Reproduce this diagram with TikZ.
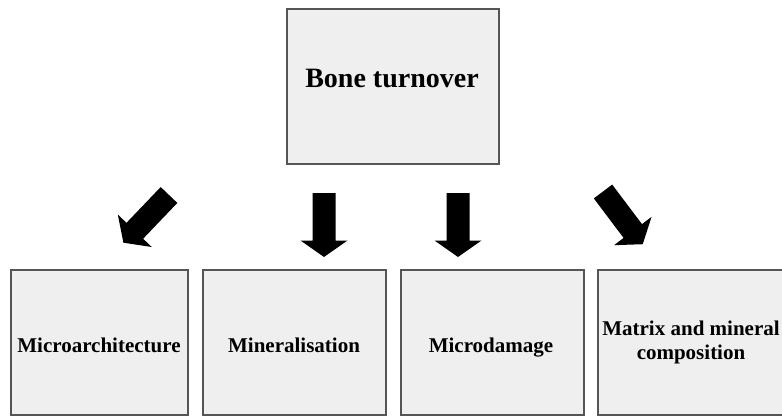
\documentclass[tikz,border=0pt]{standalone}
\usepackage{fontspec}
\setmainfont{Liberation Serif}
\definecolor{boxfill}{HTML}{EFEFEF}
\definecolor{boxline}{HTML}{555555}
\tikzset{
  box/.style={draw=boxline, fill=boxfill, line width=1.3pt},
  lbl/.style={anchor=base, inner sep=0pt, font=\bfseries\fontsize{21}{25}\selectfont},
  toplbl/.style={anchor=base, inner sep=0pt, font=\bfseries\fontsize{28}{32}\selectfont},
  blockarrow/.pic={
    \fill[black] (0,-11.5) -- (#1-16.5,-11.5) -- (#1-16.5,-23.5) -- (#1,0)
      -- (#1-16.5,23.5) -- (#1-16.5,11.5) -- (0,11.5) -- cycle;
  }
}
\begin{document}
\begin{tikzpicture}[x=1pt,y=-1pt]
\useasboundingbox (0,0) rectangle (782,417);
\clip (0,0) rectangle (782,417);
% top box
\draw[box] (287,9) rectangle (499,164);
\node[toplbl] (top) at (392,88) {Bone turnover};
% bottom boxes
\draw[box] (11,270) rectangle (188,415);
\draw[box] (203,270) rectangle (386,415);
\draw[box] (401,270) rectangle (584,415);
\draw[box] (598,270) rectangle (800,415);
\node[lbl] (b1) at (99,352) {Microarchitecture};
\node[lbl] (b2) at (294,352) {Mineralisation};
\node[lbl] (b3) at (491,352) {Microdamage};
\node[lbl] (b4a) at (691,335) {Matrix and mineral};
\node[lbl] (b4b) at (691,359) {composition};
% block arrows
\pic[rotate=226.3] at (169,195) {blockarrow=66};
\pic[rotate=-90] at (324,193) {blockarrow=64};
\pic[rotate=-90] at (458,193) {blockarrow=64};
\pic[rotate=-53] at (603,191.5) {blockarrow=66};
\end{tikzpicture}
\end{document}
